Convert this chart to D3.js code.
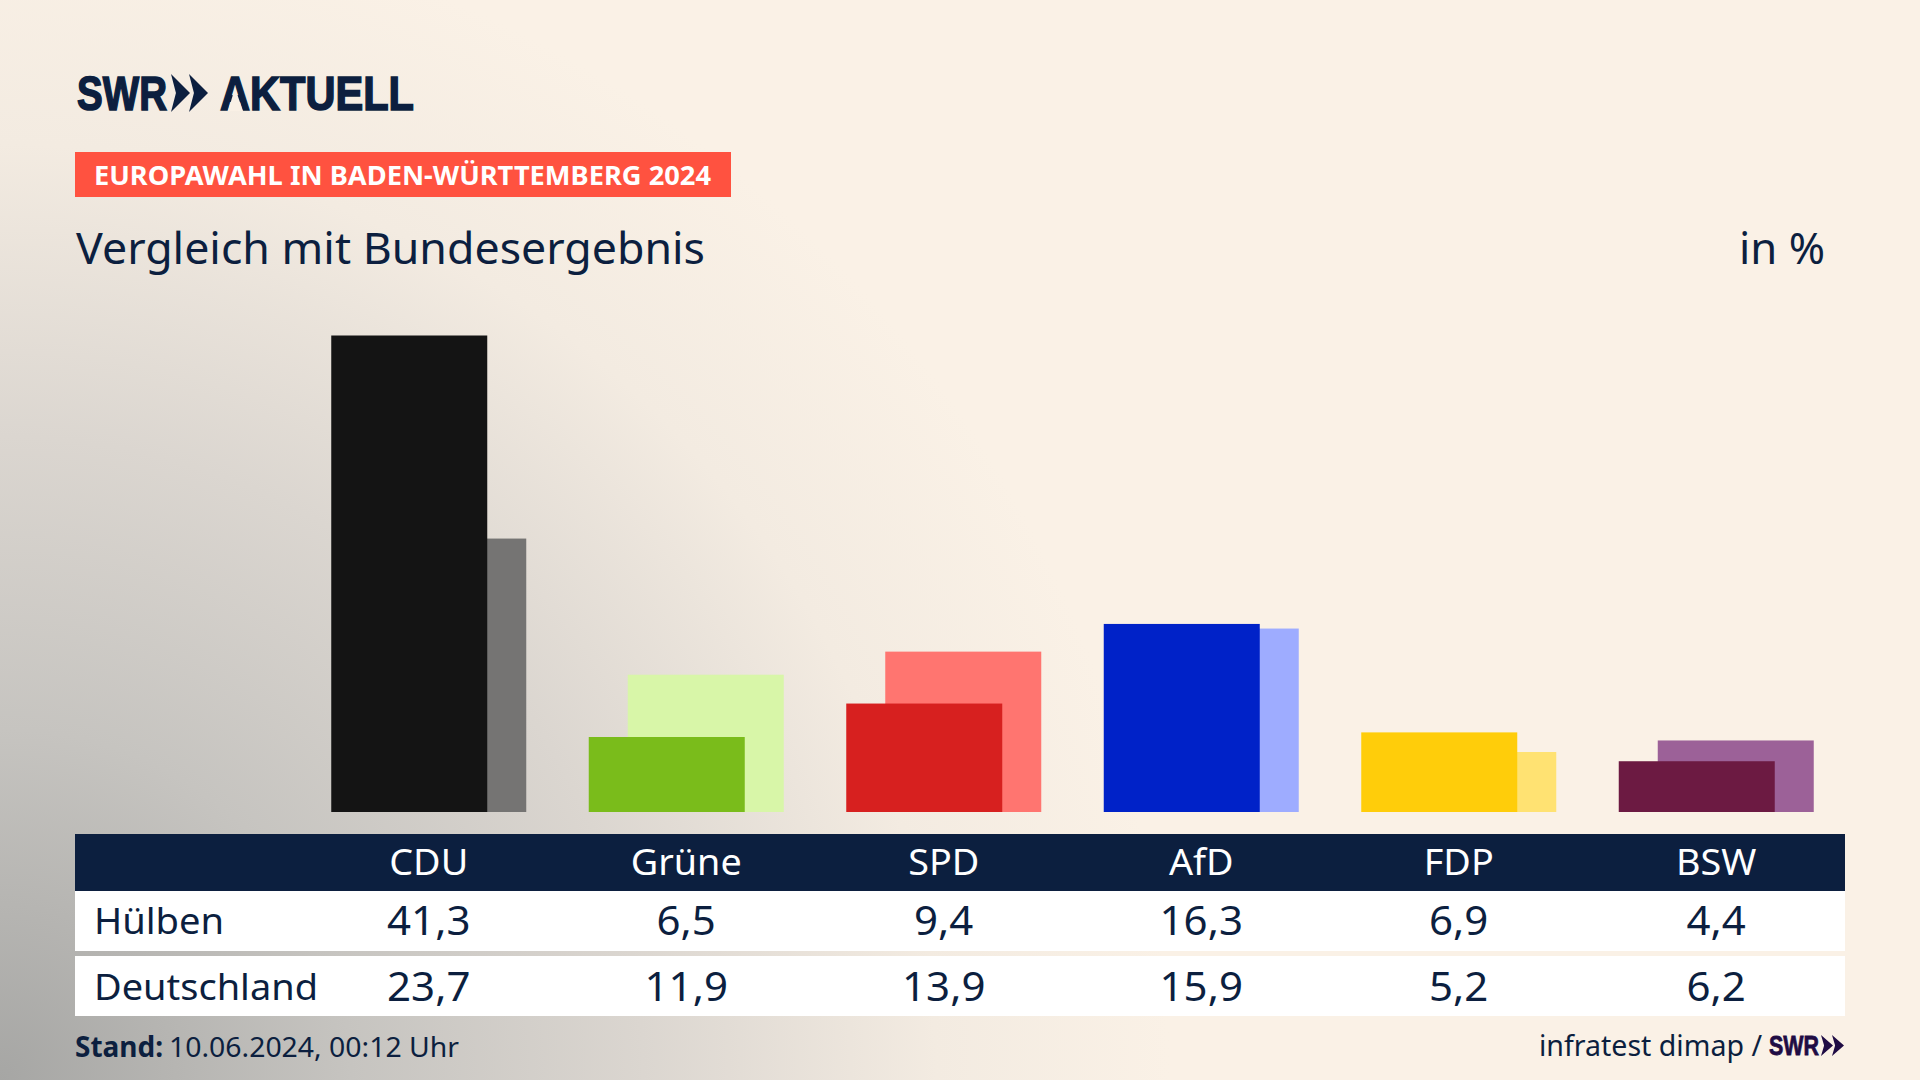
<!DOCTYPE html>
<html lang="de">
<head>
    <meta charset="UTF-8">
    <title>Vergleich mit Bundesergebnis</title>
    <script src="https://cdnjs.cloudflare.com/ajax/libs/d3/7.8.5/d3.min.js"></script>
    <style>
        body { margin: 0; overflow: hidden; background: #faf1e6; }
        svg { display: block; }
        text { font-family: "Noto Sans", sans-serif; fill: #0c1f3f; }
    </style>
</head>
<body>
    <script>
        const parties = ['CDU', 'Grüne', 'SPD', 'AfD', 'FDP', 'BSW'];
        const huelben = [41.3, 6.5, 9.4, 16.3, 6.9, 4.4];
        const deutschland = [23.7, 11.9, 13.9, 15.9, 5.2, 6.2];

        const darkColors = ['#141414', '#7abc1b', '#d7201f', '#0022c8', '#ffcd0a', '#6c1a42'];
        const lightColors = ['#757473', '#d8f6a8', '#ff7570', '#9eacff', '#ffe272', '#9c6198'];

        const width = 1920;
        const height = 1080;
        const navy = '#0c1f3f';

        const svg = d3.select('body')
            .append('svg')
            .attr('width', width)
            .attr('height', height);

        // Background, grey comes in from the bottom left corner
        const grad = svg.append('defs')
            .append('radialGradient')
            .attr('id', 'bg')
            .attr('gradientUnits', 'userSpaceOnUse')
            .attr('cx', 0).attr('cy', 1080).attr('r', 1170);
        [[0, '#a6a6a4'], [0.3, '#c6c4c0'], [0.55, '#dbd6d0'], [0.8, '#f3ebe1'], [1, '#faf1e6']].forEach(s => {
            grad.append('stop').attr('offset', s[0]).attr('stop-color', s[1]);
        });
        svg.append('rect').attr('width', width).attr('height', height).attr('fill', 'url(#bg)');

        // Small helper. len forces a measured width, stretch widens the natural one
        function label(text, x, y, size, opts = {}) {
            const t = svg.append('text')
                .attr('x', x)
                .attr('y', y)
                .attr('font-size', size)
                .attr('font-weight', opts.weight || 400)
                .attr('text-anchor', opts.anchor || 'start')
                .text(text);
            if (opts.family) t.style('font-family', opts.family);
            if (opts.fill) t.style('fill', opts.fill);
            if (opts.heavy) t.style('stroke', opts.fill || navy).style('stroke-width', opts.heavy);
            const len = opts.len || (opts.stretch ? t.node().getComputedTextLength() * opts.stretch : 0);
            if (len) t.attr('textLength', len).attr('lengthAdjust', 'spacingAndGlyphs');
            return t;
        }

        function chevrons(x, y, w, h, gap, fill) {
            [0, 1].forEach(i => {
                const x0 = x + i * gap;
                svg.append('polygon')
                    .attr('points', [
                        [x0, y], [x0 + w, y + h / 2], [x0, y + h], [x0 + w * 0.26, y + h / 2]
                    ].join(' '))
                    .attr('fill', fill);
            });
        }

        // Header
        const logoFont = '"Liberation Sans Narrow", "Liberation Sans", sans-serif';
        label('SWR', 77, 110, 49, { weight: 700, family: logoFont, len: 90, heavy: 1.6 });
        chevrons(171, 74, 19, 38, 18, navy);
        label('AKTUELL', 220, 110, 49, { weight: 700, family: logoFont, len: 194, heavy: 1.6 });
        // the logo's A has no crossbar
        svg.append('polygon')
            .attr('points', '235,88 228,111 243,111')
            .attr('fill', '#f9f0e5');

        svg.append('rect').attr('x', 75).attr('y', 152).attr('width', 656).attr('height', 45).attr('fill', '#ff5240');
        label('EUROPAWAHL IN BADEN-WÜRTTEMBERG 2024', 94, 185, 27, { weight: 700, fill: '#fff', len: 617 });

        label('Vergleich mit Bundesergebnis', 76, 264, 44, { len: 629 });
        label('in %', 1825, 264, 44, { anchor: 'end', len: 86 });

        // Scales
        const x = d3.scaleBand().domain(parties).range([300, 1845]);
        const y = d3.scaleLinear().domain([0, d3.max(huelben)]).range([812, 335.5]);
        const barWidth = 156;
        const barShift = 39;

        // Bars, Deutschland behind, Hülben in front
        svg.append('g').selectAll('rect')
            .data(parties)
            .join('rect')
            .attr('x', d => x(d) + x.bandwidth() / 2 - barWidth / 2 + barShift / 2)
            .attr('y', (d, i) => y(deutschland[i]))
            .attr('width', barWidth)
            .attr('height', (d, i) => y(0) - y(deutschland[i]))
            .attr('fill', (d, i) => lightColors[i]);

        svg.append('g').selectAll('rect')
            .data(parties)
            .join('rect')
            .attr('x', d => x(d) + x.bandwidth() / 2 - barWidth / 2 - barShift / 2)
            .attr('y', (d, i) => y(huelben[i]))
            .attr('width', barWidth)
            .attr('height', (d, i) => y(0) - y(huelben[i]))
            .attr('fill', (d, i) => darkColors[i]);

        // Table
        const fmt = d3.formatLocale({ decimal: ',', thousands: '.', grouping: [3], currency: ['', ' €'] }).format('.1f');
        const cx = d => x(d) + x.bandwidth() / 2;

        svg.append('rect').attr('x', 75).attr('y', 834).attr('width', 1770).attr('height', 57).attr('fill', navy);
        svg.append('rect').attr('x', 75).attr('y', 891).attr('width', 1770).attr('height', 60).attr('fill', '#fff');
        svg.append('rect').attr('x', 75).attr('y', 956).attr('width', 1770).attr('height', 60).attr('fill', '#fff');

        parties.forEach((p, i) => {
            label(p, cx(p), 875, 37, { anchor: 'middle', fill: '#fff', stretch: 1.02 });
            label(fmt(huelben[i]), cx(p), 935, 40, { anchor: 'middle', stretch: 1.05 });
            label(fmt(deutschland[i]), cx(p), 1001, 40, { anchor: 'middle', stretch: 1.05 });
        });
        label('Hülben', 94, 934, 37, { stretch: 1.03 });
        label('Deutschland', 94, 1000, 37, { len: 224 });

        // Footer
        label('Stand:', 75, 1057, 28, { weight: 700, len: 88 });
        label('10.06.2024, 00:12 Uhr', 169, 1057, 28, { len: 290 });
        label('infratest dimap /', 1539, 1056, 29, { len: 223 });
        label('SWR', 1769, 1055, 28, { weight: 700, family: logoFont, fill: '#1f0c44', len: 50, heavy: 0.8 });
        chevrons(1821, 1035, 12, 21, 11, '#1f0c44');
    </script>
</body>
</html>
